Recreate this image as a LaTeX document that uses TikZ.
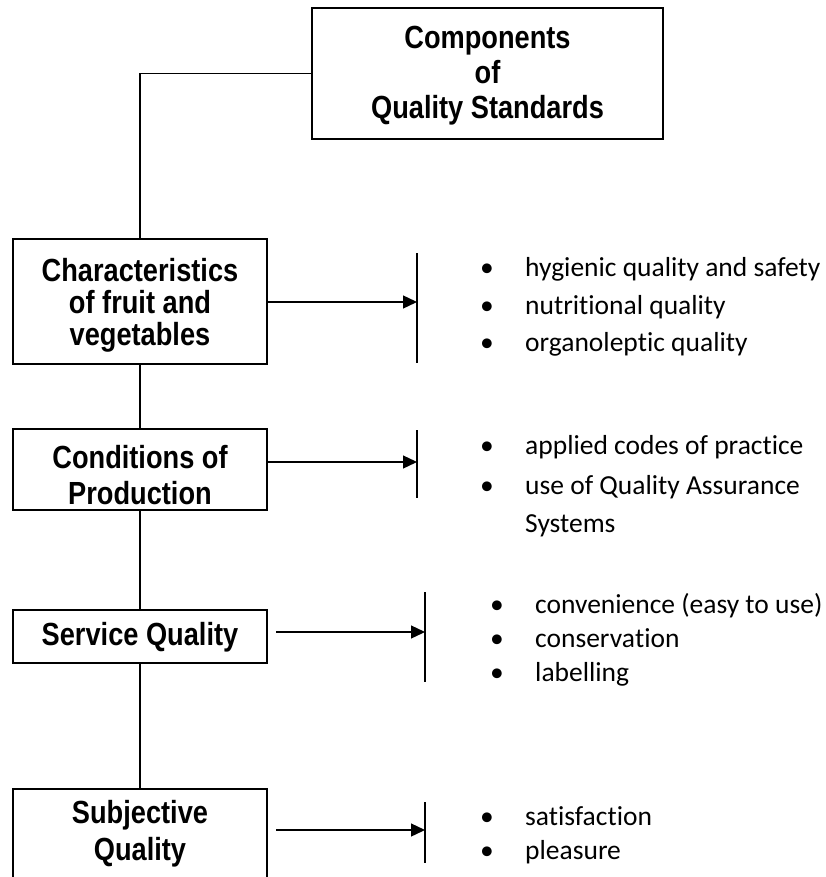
\documentclass[tikz,border=0pt]{standalone}
\usepackage{fontspec}
\newfontface\boxfont{Liberation Sans Bold}[FakeStretch=0.85]
\newfontface\itemfont{Carlito}[RawFeature={-liga;-dlig;-clig}]
\usetikzlibrary{arrows.meta}
\begin{document}
\begin{tikzpicture}[x=1pt,y=-1pt,
  box/.style={draw, line width=1.5pt, rectangle, inner sep=0pt},
  boxtext/.style={inner sep=0pt, align=center, font=\boxfont\fontsize{32}{33}\selectfont},
  link/.style={line width=1.3pt},
  arr/.style={line width=1.3pt, -{Triangle[length=14pt,width=13pt]}},
  bar/.style={line width=1.4pt},
  item/.style={anchor=base west, inner sep=0pt, font=\itemfont\fontsize{27.5}{33}\selectfont},
  bul/.style={anchor=base, inner sep=0pt, font=\itemfont\fontsize{27.5}{33}\selectfont}]
\clip (0,0) rectangle (826,877);
\fill[white] (0,0) rectangle (826,877);

% boxes
\node[box, minimum width=351pt, minimum height=131pt] (T) at (487.5,73.5) {};
\node[boxtext, font=\boxfont\fontsize{32}{35}\selectfont] (Tt) at (487.5,76) {Components\\of\\Quality Standards};

\node[box, minimum width=254pt, minimum height=125pt] (C1) at (140,301.5) {};
\node[boxtext, font=\boxfont\fontsize{32}{32}\selectfont] (C1t) at (140,305) {Characteristics\\of fruit and\\vegetables};

\node[box, minimum width=254pt, minimum height=81pt] (C2) at (140,469.5) {};
\node[boxtext, font=\boxfont\fontsize{32}{36}\selectfont] (C2t) at (140,475) {Conditions of\\Production};

\node[box, minimum width=254pt, minimum height=53pt] (C3) at (140,636.5) {};
\node[boxtext] (C3t) at (140,637) {Service Quality};

\node[box, minimum width=254pt, minimum height=106pt] (C4) at (140,842) {};
\node[boxtext, font=\boxfont\fontsize{32}{37}\selectfont] (C4t) at (140,833.5) {Subjective\\Quality};

% vertical chain
\draw[link] (T.west) -| (C1.north);
\draw[link] (C1.south) -- (C2.north);
\draw[link] (C2.south) -- (C3.north);
\draw[link] (C3.south) -- (C4.north);

% bars and arrows
\coordinate (B1t) at (417,253); \coordinate (B1b) at (417,363); \coordinate (B1m) at (417,302);
\coordinate (B2t) at (417,430); \coordinate (B2b) at (417,498); \coordinate (B2m) at (417,462);
\coordinate (B3t) at (425,592); \coordinate (B3b) at (425,682); \coordinate (B3m) at (425,632);
\coordinate (B4t) at (425,802); \coordinate (B4b) at (425,863); \coordinate (B4m) at (425,830);
\coordinate (S3) at (276,632);
\coordinate (S4) at (276,830);
\draw[bar] (B1t) -- (B1b);
\draw[bar] (B2t) -- (B2b);
\draw[bar] (B3t) -- (B3b);
\draw[bar] (B4t) -- (B4b);
\draw[arr] (C1.east |- B1m) -- (B1m);
\draw[arr] (C2.east |- B2m) -- (B2m);
\draw[arr] (S3) -- (B3m);
\draw[arr] (S4) -- (B4m);

% group 1
\node[bul] (g1b1) at (487,276) {•};
\node[item] (g1t1) at (525,276) {hygienic quality and safety};
\node[bul] (g1b2) at (487,314) {•};
\node[item] (g1t2) at (525,314) {nutri\kern0pt tional quality};
\node[bul] (g1b3) at (487,351) {•};
\node[item] (g1t3) at (525,351) {organolep\kern0pt tic quality};

% group 2
\node[bul] (g2b1) at (487,454) {•};
\node[item] (g2t1) at (525,454) {applied codes of practice};
\node[bul] (g2b2) at (487,494) {•};
\node[item] (g2t2) at (525,494) {use of Quality Assurance};
\node[item] (g2t3) at (525,532) {Systems};

% group 3
\node[bul] (g3b1) at (497,613) {•};
\node[item] (g3t1) at (535,613) {convenience (easy to use)};
\node[bul] (g3b2) at (497,647) {•};
\node[item] (g3t2) at (535,647) {conserva\kern0pt tion};
\node[bul] (g3b3) at (497,681) {•};
\node[item] (g3t3) at (535,681) {labelling};

% group 4
\node[bul] (g4b1) at (487,825) {•};
\node[item] (g4t1) at (525,825) {satisfac\kern0pt tion};
\node[bul] (g4b2) at (487,859) {•};
\node[item] (g4t2) at (525,859) {pleasure};
\end{tikzpicture}
\end{document}
